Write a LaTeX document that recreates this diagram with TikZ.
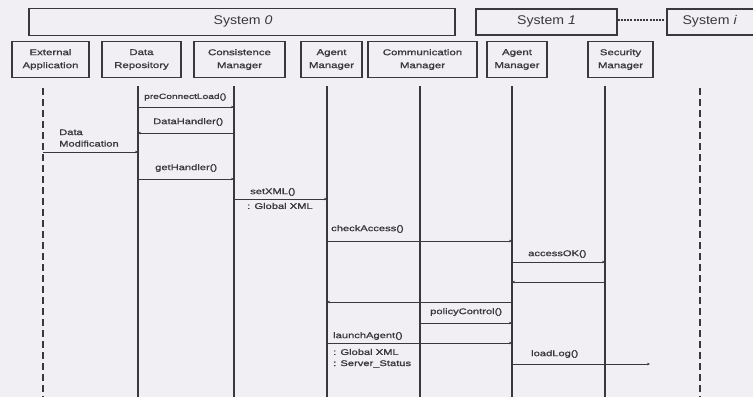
\documentclass[tikz,border=0pt]{standalone}
\usepackage{fontspec}
\setmainfont{Liberation Sans}
\newfontfamily\widefont[FakeStretch=1.36, FakeBold=1.2]{Liberation Sans}
\newfontfamily\sysfont[FakeStretch=1.12]{Liberation Sans}
\usetikzlibrary{arrows.meta}
\definecolor{bg}{rgb}{0.945,0.937,0.953}
\definecolor{ink}{rgb}{0.22,0.22,0.24}
\tikzset{
  sysbox/.style={draw=ink, line width=1.1pt, inner sep=0pt},
  systext/.style={font=\sysfont\fontsize{12.6}{14}\selectfont, text=ink},
  headbox/.style={draw=ink, line width=1.1pt, fill=bg, align=center, font=\widefont\fontsize{8.4}{13}\selectfont, text=ink, inner sep=0pt},
  life/.style={draw=ink, line width=1.8pt},
  dlife/.style={draw=ink, line width=2.6pt, dash pattern=on 7pt off 4pt},
  msg/.style={draw=ink, line width=0.8pt, -{Stealth[length=3pt,width=2.6pt]}},
  mlab/.style={font=\widefont\fontsize{8.2}{11.5}\selectfont, anchor=west, inner sep=0pt, text=ink},
}
\begin{document}
\begin{tikzpicture}[x=1pt,y=-1pt]
\useasboundingbox[fill=bg] (0,0) rectangle (753,397);
% system boxes
\node[sysbox, minimum width=426pt, minimum height=27pt] (sys0) at (242,22) {};
\node[systext] (sys0t) at (243,21) {System \textit{0}};
\node[sysbox, minimum width=141pt, minimum height=26pt] (sys1) at (546.5,22) {};
\node[systext] (sys1t) at (546.5,21) {System \textit{1}};
\node[sysbox, minimum width=100pt, minimum height=26pt] (sysi) at (717,22) {};
\node[systext, anchor=west] (sysit) at (679,21) {System \textit{i}};
\draw[draw=ink, line width=1.4pt, dash pattern=on 2pt off 1.2pt] (sys1.east |- 0,20) -- (sysi.west |- 0,20);
% lifeline heads
\node[headbox, minimum width=77pt, minimum height=36pt] (ext) at (50.5,59.5) {External\\Application};
\node[headbox, minimum width=79pt, minimum height=36pt] (dr) at (141.5,59.5) {Data\\Repository};
\node[headbox, minimum width=91pt, minimum height=36pt] (cm) at (239.5,59.5) {Consistence\\Manager};
\node[headbox, minimum width=61pt, minimum height=36pt] (am) at (331.5,59.5) {Agent\\Manager};
\node[headbox, minimum width=109pt, minimum height=36pt] (com) at (422.5,59.5) {Communication\\Manager};
\node[headbox, minimum width=60pt, minimum height=36pt] (am1) at (517,59.5) {Agent\\Manager};
\node[headbox, minimum width=65pt, minimum height=36pt] (sec) at (620.5,59.5) {Security\\Manager};
% lifelines
\coordinate (Lext) at (43,88);   \coordinate (Bext) at (43,397);
\coordinate (Ldr) at (138,86);   \coordinate (Bdr) at (138,397);
\coordinate (Lcm) at (234,86);   \coordinate (Bcm) at (234,397);
\coordinate (Lam) at (327,86);   \coordinate (Bam) at (327,397);
\coordinate (Lcom) at (420,86);  \coordinate (Bcom) at (420,397);
\coordinate (Lam1) at (512,86);  \coordinate (Bam1) at (512,397);
\coordinate (Lsec) at (605,86);  \coordinate (Bsec) at (605,397);
\coordinate (Lsi) at (700,88);   \coordinate (Bsi) at (700,397);
\draw[dlife] (Lext) -- (Bext);
\draw[dlife] (Lsi) -- (Bsi);
\draw[life] (Ldr) -- (Bdr);
\draw[life] (Lcm) -- (Bcm);
\draw[life] (Lam) -- (Bam);
\draw[life] (Lcom) -- (Bcom);
\draw[life] (Lam1) -- (Bam1);
\draw[life] (Lsec) -- (Bsec);
% messages
\draw[msg] (Ldr |- 0,107) -- (Lcm |- 0,107);
\node[mlab, font=\widefont\fontsize{7.5}{9}\selectfont] (m1) at (144,97) {preConnectLoad()};
\draw[msg] (Lcm |- 0,133) -- (Ldr |- 0,133);
\node[mlab] (m2) at (153,122) {DataHandler()};
\draw[msg] (Lext |- 0,152) -- (Ldr |- 0,152);
\node[mlab, align=left] (m3) at (59,138) {Data\\Modification};
\draw[msg] (Ldr |- 0,179) -- (Lcm |- 0,179);
\node[mlab] (m4) at (155,168) {getHandler()};
\draw[msg] (Lcm |- 0,199) -- (Lam |- 0,199);
\node[mlab] (m5) at (250,192) {setXML()};
\node[mlab] (m5b) at (247,206) {: Global XML};
\draw[msg] (Lam |- 0,241) -- (Lam1 |- 0,241);
\node[mlab] (m6) at (331,229) {checkAccess()};
\draw[msg] (Lam1 |- 0,262) -- (Lsec |- 0,262);
\node[mlab] (m7) at (528,254) {accessOK()};
\draw[msg] (Lsec |- 0,282) -- (Lam1 |- 0,282);
\draw[msg] (Lam1 |- 0,302) -- (Lam |- 0,302);
\draw[msg] (Lcom |- 0,323) -- (Lam1 |- 0,323);
\node[mlab] (m8) at (430,312) {policyControl()};
\draw[msg] (Lam |- 0,343) -- (Lam1 |- 0,343);
\node[mlab] (m9) at (333,336) {launchAgent()};
\node[mlab] (m9b) at (333,352) {: Global XML};
\node[mlab] (m9c) at (333,364) {: Server\_Status};
\coordinate (llend) at (650,364);
\draw[msg] (Lam1 |- 0,364) -- (llend);
\node[mlab] (m10) at (531,354) {loadLog()};
\end{tikzpicture}
\end{document}
